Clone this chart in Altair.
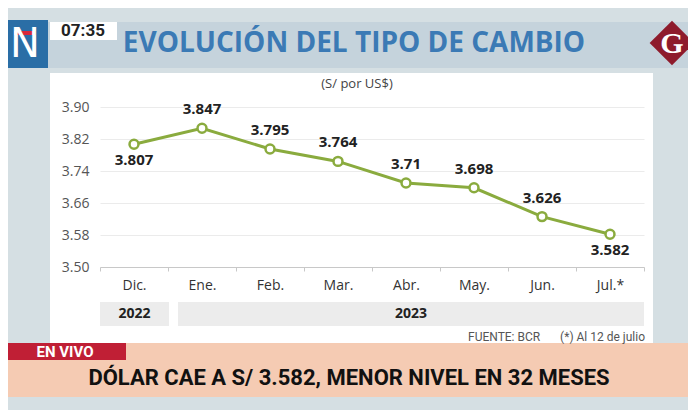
import altair as alt
import pandas as pd

# ---- data ----
months = ["Dic.", "Ene.", "Feb.", "Mar.", "Abr.", "May.", "Jun.", "Jul.*"]
values = [3.807, 3.847, 3.795, 3.764, 3.71, 3.698, 3.626, 3.582]
label_side = ["below", "above", "above", "above", "above", "above", "above", "below"]
y_ticks = [3.50, 3.58, 3.66, 3.74, 3.82, 3.90]
years = ["2022", "2023"]

title_text = "EVOLUCIÓN DEL TIPO DE CAMBIO"
unit_text = "(S/ por US$)"
source_text = "FUENTE: BCR"
note_text = "(*) Al 12 de julio"
headline_text = "DÓLAR CAE A S/ 3.582, MENOR NIVEL EN 32 MESES"
live_text = "EN VIVO"
clock_text = "07:35"

df = pd.DataFrame({
    "month": months,
    "value": values,
    "label": [str(v) for v in values],
    "side": label_side,
})

BG = "#d5dfe3"
HEADER = "#c5d3dc"
GREEN = "#8aab3e"
FONT = "Open Sans"
NARROW = "Roboto"

W, H = 544, 160
one = pd.DataFrame({"k": [0]})


def box(x, x2, y, y2, color):
    return alt.Chart(one).mark_rect(color=color, clip=False).encode(
        x=alt.value(x), x2=alt.value(x2), y=alt.value(y), y2=alt.value(y2)
    )


def label(text, x, y, size, color, weight="normal", font=FONT, align="center"):
    return alt.Chart(pd.DataFrame({"t": [text]})).mark_text(
        fontSize=size, color=color, fontWeight=weight, font=font,
        align=align, baseline="middle", clip=False
    ).encode(x=alt.value(x), y=alt.value(y), text="t:N")


x_enc = alt.X(
    "month:N", sort=months,
    scale=alt.Scale(type="band", paddingInner=0, paddingOuter=0),
    axis=alt.Axis(
        title=None, labelAngle=0, labelFontSize=14, labelColor="#333",
        labelFont=FONT, labelPadding=7, domainColor="#c8c8c8",
        tickColor="#c8c8c8", tickSize=4, tickBand="extent", grid=False,
    ),
)
y_enc = alt.Y(
    "value:Q",
    scale=alt.Scale(domain=[3.5, 3.9], zero=False, nice=False),
    axis=alt.Axis(
        title=None, values=y_ticks, format=".2f", labelFontSize=14,
        labelColor="#555", labelFont=FONT, labelPadding=11, ticks=False,
        domain=False, grid=True, gridColor="#ebebeb",
    ),
)

base = alt.Chart(df).encode(x=x_enc, y=y_enc)
line = base.mark_line(color=GREEN, strokeWidth=3)
pts = base.mark_point(shape="circle", filled=True, fill="white", stroke=GREEN,
                      strokeWidth=2.5, size=80, opacity=1)
lab_above = base.mark_text(fontSize=15, fontWeight="bold", color="#222", font=FONT,
                           dy=-19, baseline="middle").encode(text="label:N").transform_filter(
    alt.datum.side == "above")
lab_below = base.mark_text(fontSize=15, fontWeight="bold", color="#222", font=FONT,
                           dy=16, baseline="middle").encode(text="label:N").transform_filter(
    alt.datum.side == "below")

# decorations (plot coords: origin at plot top-left)
decor_back = [
    box(-110, 610, -120, -34, BG),          # top background
    box(-110, -50, -34, 236, BG),           # left background
    box(553, 610, -34, 236, BG),            # right background
    box(-110, 610, 290, 330, BG),           # bottom background
    box(-110, 610, -85, -39, HEADER),       # header band
    box(-98, -52, -87, -39, "#2a6ea6"),     # N logo
    box(-86, -64, -76, -72, "#d8283a"),
    box(-50, 17, -85, -67, "white"),        # clock box
    box(0, 69, 195, 219, "#ececec"),        # 2022 box
    box(78, 544, 195, 219, "#ececec"),      # 2023 box
    box(-97, 610, 236, 290, "#f5cbb3"),     # salmon band
    box(-97, 26, 236, 253, "#c01f35"),      # EN VIVO box
]

diamond = alt.Chart(one).mark_point(shape="diamond", filled=True, fill="#8e1b2c",
                                    opacity=1, size=2000, clip=False).encode(
    x=alt.value(572), y=alt.value(-64))

decor_text = [
    label("N", -75, -62, 40, "white", "normal", "DejaVu Sans"),
    label(clock_text, -17, -76, 17, "#222", "bold", "Roboto"),
    label(title_text, 254, -63, 28, "#3b7ab5", "bold"),
    label("G", 572, -63, 30, "white", "bold", "Liberation Serif"),
    label(unit_text, 257, -23, 13, "#444"),
    label(years[0], 34.5, 207, 14, "#222", "bold"),
    label(years[1], 311, 207, 14, "#222", "bold"),
    label(source_text, 368, 230, 12, "#555", "normal", NARROW, "left"),
    label(note_text, 545, 230, 12, "#555", "normal", NARROW, "right"),
    label(live_text, -35, 245, 15, "white", "bold", "Roboto"),
    label(headline_text, 249, 271, 22, "#111", "bold", NARROW),
]

chart = alt.layer(
    *decor_back, diamond, line, pts, lab_above, lab_below, *decor_text
).properties(
    width=W, height=H,
    padding={"left": 92, "top": 99, "right": 44, "bottom": 143},
    autosize=alt.AutoSizeParams(type="none"),
    background="white",
).configure_view(stroke=None)

chart.save("out.html", embed_options={"renderer": "svg", "actions": False})
